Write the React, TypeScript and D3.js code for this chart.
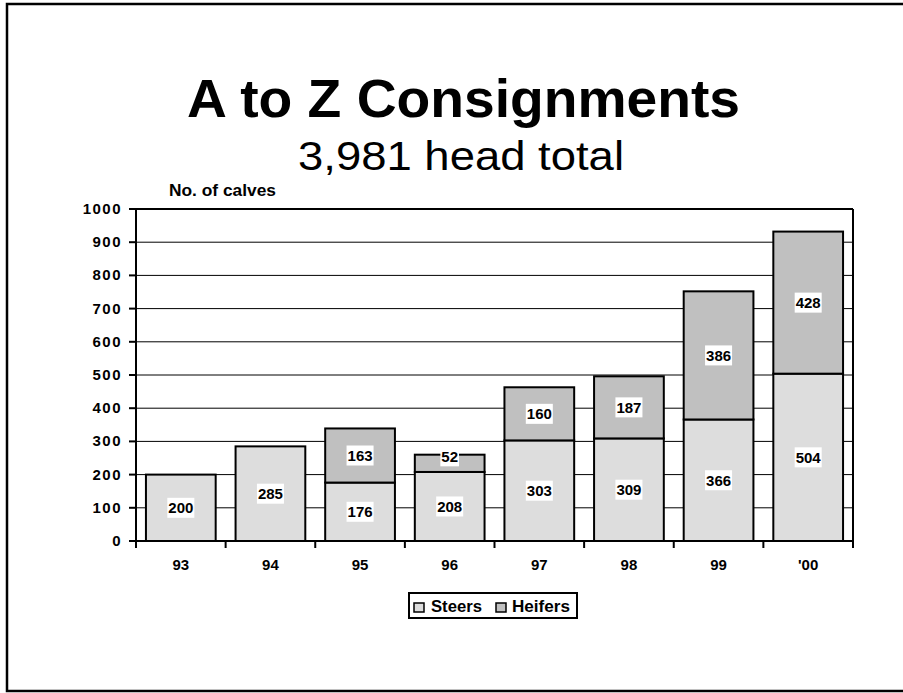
import React from "react";
import * as d3 from "d3";

const categories = ["93", "94", "95", "96", "97", "98", "99", "'00"];
const steers = [200, 285, 176, 208, 303, 309, 366, 504];
const heifers = [0, 0, 163, 52, 160, 187, 386, 428];
const yTicks = [0, 100, 200, 300, 400, 500, 600, 700, 800, 900, 1000];
const seriesNames = ["Steers", "Heifers"];
const seriesColors = ["#DDDDDD", "#C0C0C0"];

const W = 903;
const H = 693;
const FONT = "'Liberation Sans', Arial, Helvetica, sans-serif";

export default function App() {
  const left = 136, right = 853, top = 209, bottom = 541;
  const x = d3.scaleBand<string>().domain(categories).range([left, right]).paddingInner(0.222).paddingOuter(0.111);
  const xOuter = d3.scaleBand<string>().domain(categories).range([left, right]);
  const y = d3.scaleLinear().domain([0, 1000]).range([bottom, top]);

  const rows = categories.map((c, i) => ({ cat: c, Steers: steers[i], Heifers: heifers[i] }));
  const stack = d3.stack<any>().keys(seriesNames)(rows);

  const labelFs = 15;
  const segs: any[] = [];
  stack.forEach((layer, si) => {
    layer.forEach((d, i) => {
      const v = d[1] - d[0];
      if (v <= 0) return;
      segs.push({ si, i, y0: d[0], y1: d[1], v });
    });
  });

  return (
    <svg width={W} height={H} style={{ position: "absolute", left: 0, top: 0, background: "#fff" }} fontFamily={FONT}>
      <rect x={0} y={0} width={W} height={H} fill="#fff" />
      <rect x={7} y={4} width={W + 10} height={687} fill="none" stroke="#000" strokeWidth={2.5} />
      <text x={187} y={117} fontSize={54} fontWeight="bold" textLength={553} lengthAdjust="spacingAndGlyphs">A to Z Consignments</text>
      <text x={298} y={170} fontSize={40} textLength={326} lengthAdjust="spacingAndGlyphs">3,981 head total</text>
      <text x={169} y={196} fontSize={16.5} fontWeight="bold" textLength={107} lengthAdjust="spacingAndGlyphs">No. of calves</text>

      {/* gridlines */}
      {yTicks.filter(t => t > 0 && t < 1000).map(t => (
        <line key={t} x1={left} x2={right} y1={y(t)} y2={y(t)} stroke="#000" strokeWidth={1} />
      ))}
      {/* plot border top/right */}
      <line x1={left} x2={right} y1={top} y2={top} stroke="#000" strokeWidth={2} />
      <line x1={right} x2={right} y1={top} y2={bottom} stroke="#000" strokeWidth={2} />

      {/* bars */}
      {segs.map((s, k) => (
        <rect key={k} x={x(categories[s.i])} y={y(s.y1)} width={x.bandwidth()} height={y(s.y0) - y(s.y1)}
          fill={seriesColors[s.si]} stroke="#000" strokeWidth={2} />
      ))}

      {/* axes */}
      <line x1={left} x2={left} y1={top - 1} y2={bottom + 1} stroke="#000" strokeWidth={2} />
      <line x1={left - 1} x2={right + 1} y1={bottom} y2={bottom} stroke="#000" strokeWidth={2} />
      {yTicks.map(t => (
        <g key={t}>
          <line x1={left - 7} x2={left} y1={y(t)} y2={y(t)} stroke="#000" strokeWidth={2} />
          <text x={122} y={y(t) + 5} textAnchor="end" fontSize={15} fontWeight="bold" letterSpacing={1.5}>{t}</text>
        </g>
      ))}
      {categories.map((c, i) => (
        <line key={c} x1={xOuter(c)!} x2={xOuter(c)!} y1={bottom} y2={bottom + 7} stroke="#000" strokeWidth={2} />
      ))}
      <line x1={right} x2={right} y1={bottom} y2={bottom + 7} stroke="#000" strokeWidth={2} />
      {categories.map(c => (
        <text key={c} x={x(c)! + x.bandwidth() / 2} y={570} textAnchor="middle" fontSize={15} fontWeight="bold">{c}</text>
      ))}

      {/* value labels */}
      {segs.map((s, k) => {
        const cx = x(categories[s.i])! + x.bandwidth() / 2;
        const segH = y(s.y0) - y(s.y1);
        const cy = (y(s.y0) + y(s.y1)) / 2 - (segH < 20 ? 7 : 0);
        const label = String(s.v);
        const w = label.length * 0.556 * labelFs + 2;
        return (
          <g key={k}>
            <rect x={cx - w / 2} y={cy - 10} width={w} height={20} fill="#fff" />
            <text x={cx} y={cy + 5.5} textAnchor="middle" fontSize={labelFs} fontWeight="bold">{label}</text>
          </g>
        );
      })}

      {/* legend */}
      <rect x={409} y={593} width={168} height={25} fill="#fff" stroke="#000" strokeWidth={2} />
      {seriesNames.map((n, i) => {
        const sx = i === 0 ? 414 : 496;
        const tx = i === 0 ? 431 : 512;
        const tl = i === 0 ? 51 : 58;
        return (
          <g key={n}>
            <rect x={sx} y={603} width={10} height={9} fill={seriesColors[i]} stroke="#000" strokeWidth={1.5} />
            <text x={tx} y={612} fontSize={16.5} fontWeight="bold" textLength={tl} lengthAdjust="spacingAndGlyphs">{n}</text>
          </g>
        );
      })}
    </svg>
  );
}
